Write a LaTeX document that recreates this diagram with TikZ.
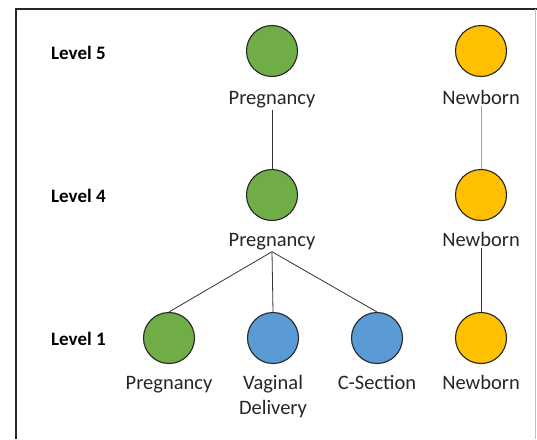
\documentclass[tikz,border=0pt]{standalone}
\usepackage{fontspec}
\setmainfont{Carlito}
\definecolor{cgreen}{HTML}{70AD47}
\definecolor{cblue}{HTML}{5B9BD5}
\definecolor{cgold}{HTML}{FFC000}
\definecolor{ctext}{HTML}{262626}
\begin{document}
\begin{tikzpicture}[x=1pt,y=-1pt,
  dot/.style={circle,draw=black!85,line width=1.1pt,minimum size=51pt,inner sep=0pt},
  lbl/.style={font=\fontsize{20.5}{25}\selectfont,text=ctext,anchor=base,inner sep=2pt},
  lvl/.style={font=\fontsize{19}{23}\selectfont\bfseries,text=black,anchor=base west,inner sep=0pt},
  conn/.style={draw=black!80,line width=0.8pt}]
\useasboundingbox (0,0) rectangle (537,439);
\fill[white] (0,0) rectangle (537,439);
% frame
\coordinate (ftl) at (16,9);
\coordinate (fbl) at (16,439);
\coordinate (ftr) at (537,9);
\draw[line width=1.8pt,black!85] (fbl) -- (ftl) -- (ftr);
\coordinate (rt) at (535,9);
\coordinate (rb) at (535,439);
\draw[line width=0.6pt,black!25] (rt) -- (rb);
% level labels
\node[lvl] (l5) at (51,59) {Level 5};
\node[lvl] (l4) at (51,202) {Level 4};
\node[lvl] (l1) at (51,345) {Level 1};
% level 5
\node[dot,fill=cgreen] (p5) at (272,51) {};
\node[lbl] (p5t) at (272,104) {Pregnancy};
\node[dot,fill=cgold] (n5) at (481,51) {};
\node[lbl] (n5t) at (481,104) {Newborn};
% level 4
\node[dot,fill=cgreen] (p4) at (272,195) {};
\node[lbl] (p4t) at (272,246) {Pregnancy};
\node[dot,fill=cgold] (n4) at (481,195) {};
\node[lbl] (n4t) at (481,246) {Newborn};
% level 1
\node[dot,fill=cgreen] (p1) at (169,338) {};
\node[lbl] (p1t) at (169,389) {Pregnancy};
\node[dot,fill=cblue] (v1) at (273,338) {};
\node[lbl,align=center] (v1t) at (273,414) {Vaginal\\Delivery};
\node[dot,fill=cblue] (c1) at (377,338) {};
\node[lbl] (c1t) at (377,389) {C-Section};
\node[dot,fill=cgold] (n1) at (481,338) {};
\node[lbl] (n1t) at (481,389) {Newborn};
% connectors
\draw[conn] (p5t.south) -- (p4.north);
\draw[line width=0.8pt,black!35] (n5t.south) -- (n4.north);
\draw[conn] (p4t.south) -- (p1.north);
\draw[conn] (p4t.south) -- (v1.north);
\draw[conn] (p4t.south) -- (c1.north);
\draw[conn] (n4t.south) -- (n1.north);
\end{tikzpicture}
\end{document}
